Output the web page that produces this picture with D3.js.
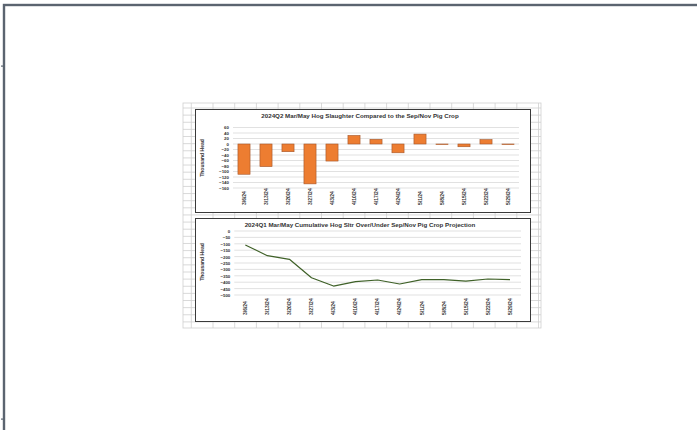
<!DOCTYPE html>
<html>
<head>
<meta charset="utf-8">
<script src="https://cdn.jsdelivr.net/npm/d3@7"></script>
<style>
  html, body { margin: 0; padding: 0; background: #fff; }
  svg { display: block; }
  text { font-family: "Liberation Sans", Arial, sans-serif; fill: #333; }
</style>
</head>
<body>
<svg id="chart" width="697" height="430"></svg>
<script>
// Weekly dates (shared by both panels)
const weeks = ["3/6/24","3/13/24","3/20/24","3/27/24","4/3/24","4/10/24","4/17/24",
               "4/24/24","5/1/24","5/8/24","5/15/24","5/22/24","5/29/24"];

// Panel 1: weekly slaughter vs. Sep/Nov pig crop (thousand head)
const weeklyDiff = [-110, -82, -28, -145, -62, 31, 17, -32, 36, -2, -10, 16, -2];
const weeklyTicks = [60, 40, 20, 0, -20, -40, -60, -80, -100, -120, -140, -160];

// Panel 2: cumulative over/under projection (thousand head)
const cumulative = [-109, -193, -221, -365, -430, -396, -383, -414, -380, -380, -391, -375, -380];
const cumulativeTicks = [0, -50, -100, -150, -200, -250, -300, -350, -400, -450, -500];

const titleTop = "2024Q2 Mar/May Hog Slaughter Compared to the Sep/Nov Pig Crop";
const titleBottom = "2024Q1 Mar/May Cumulative Hog Sltr Over/Under Sep/Nov Pig Crop Projection";
const yTitle = "Thousand Head";

const svg = d3.select("#chart");

// Page frame
svg.append("rect").attr("x", 4).attr("y", 5).attr("width", 700).attr("height", 430)
  .attr("fill", "none").attr("stroke", "#5b6470").attr("stroke-width", 2.4);
svg.append("rect").attr("x", 1).attr("y", 65.5).attr("width", 3).attr("height", 1.2).attr("fill", "#5b6470");
svg.append("rect").attr("x", 1).attr("y", 418.5).attr("width", 3).attr("height", 1.2).attr("fill", "#5b6470");

// Worksheet cell grid behind the charts
const sheet = { x0: 183, y0: 103, x1: 541, y1: 328 };
const g0 = svg.append("g").attr("stroke", "#cfcfcf").attr("stroke-width", 0.8);
g0.append("rect").attr("x", sheet.x0).attr("y", sheet.y0)
  .attr("width", sheet.x1 - sheet.x0).attr("height", sheet.y1 - sheet.y0).attr("fill", "#fff");
d3.range(191.3, sheet.x1, 21.7).forEach(x =>
  g0.append("line").attr("x1", x).attr("x2", x).attr("y1", sheet.y0).attr("y2", sheet.y1));
d3.range(108, sheet.y1, 7.13).forEach(y =>
  g0.append("line").attr("x1", sheet.x0).attr("x2", sheet.x1).attr("y1", y).attr("y2", y));

function panel(opts) {
  const g = svg.append("g");
  g.append("rect").attr("x", opts.box[0] + 0.5).attr("y", opts.box[1] + 0.5)
    .attr("width", opts.box[2]).attr("height", opts.box[3])
    .attr("fill", "#fff").attr("stroke", "#3a3a3a").attr("stroke-width", 1);

  g.append("text").attr("x", opts.titleX).attr("y", opts.titleY)
    .attr("text-anchor", "middle").attr("font-size", 6.2).attr("font-weight", "bold")
    .text(opts.title);

  g.append("text")
    .attr("transform", `translate(${opts.yTitleX},${opts.yTitleY}) rotate(-90)`)
    .attr("text-anchor", "middle").attr("font-size", 5).attr("font-weight", "bold")
    .text(yTitle);

  const x = d3.scaleBand().domain(weeks).range(opts.xRange).paddingInner(0.45).paddingOuter(0.225);
  const y = d3.scaleLinear().domain(opts.domain).range(opts.yRange);

  // gridlines
  g.append("g").selectAll("line").data(opts.ticks).join("line")
    .attr("x1", opts.xRange[0]).attr("x2", opts.xRange[1])
    .attr("y1", d => y(d)).attr("y2", d => y(d))
    .attr("stroke", "#d9d9d9").attr("stroke-width", 0.8);

  // y axis labels
  const ya = g.append("g").attr("transform", `translate(${opts.xRange[0] - 4},0)`)
    .call(d3.axisLeft(y).tickValues(opts.ticks).tickSize(0).tickPadding(0));
  ya.select(".domain").remove();
  ya.selectAll("text").attr("font-size", 4.4).attr("font-weight", "bold")
    .attr("font-family", "Liberation Sans, Arial, sans-serif").attr("fill", "#3a3a3a");

  // x axis labels, rotated
  const xa = g.append("g").attr("transform", `translate(0,${opts.labelY})`)
    .call(d3.axisBottom(x).tickSize(0).tickPadding(0));
  xa.select(".domain").remove();
  xa.selectAll("text").attr("font-size", 5).attr("font-weight", "bold")
    .attr("font-family", "Liberation Sans, Arial, sans-serif")
    .attr("fill", "#2e2e2e").attr("text-anchor", "start")
    .attr("transform", "rotate(-90)").attr("x", 0).attr("y", 0).attr("dy", "0.35em").attr("dx", 0);

  return { g, x, y };
}

// Panel 1: bars
const p1 = panel({
  box: [195, 109, 335, 103], title: titleTop, titleX: 360, titleY: 118,
  yTitleX: 204, yTitleY: 158,
  xRange: [233, 519], yRange: [188, 127.5], domain: [-160, 60],
  ticks: weeklyTicks, labelY: 205
});
p1.g.append("g").selectAll("rect").data(weeks).join("rect")
  .attr("x", (d) => p1.x(d))
  .attr("width", p1.x.bandwidth())
  .attr("y", (d, i) => p1.y(Math.max(0, weeklyDiff[i])))
  .attr("height", (d, i) => Math.abs(p1.y(weeklyDiff[i]) - p1.y(0)))
  .attr("fill", "#ed7d31").attr("stroke", "#a5562a").attr("stroke-width", 0.6);

// Panel 2: cumulative line
const p2 = panel({
  box: [195, 218, 335, 103], title: titleBottom, titleX: 360, titleY: 227,
  yTitleX: 204, yTitleY: 262,
  xRange: [234.3, 521], yRange: [295, 231], domain: [-500, 0],
  ticks: cumulativeTicks, labelY: 315
});
const line = d3.line()
  .x((d, i) => p2.x(weeks[i]) + p2.x.bandwidth() / 2)
  .y(d => p2.y(d));
p2.g.append("path").datum(cumulative).attr("d", line)
  .attr("fill", "none").attr("stroke", "#3f6128").attr("stroke-width", 1.2)
  .attr("stroke-linejoin", "round");
</script>
</body>
</html>
